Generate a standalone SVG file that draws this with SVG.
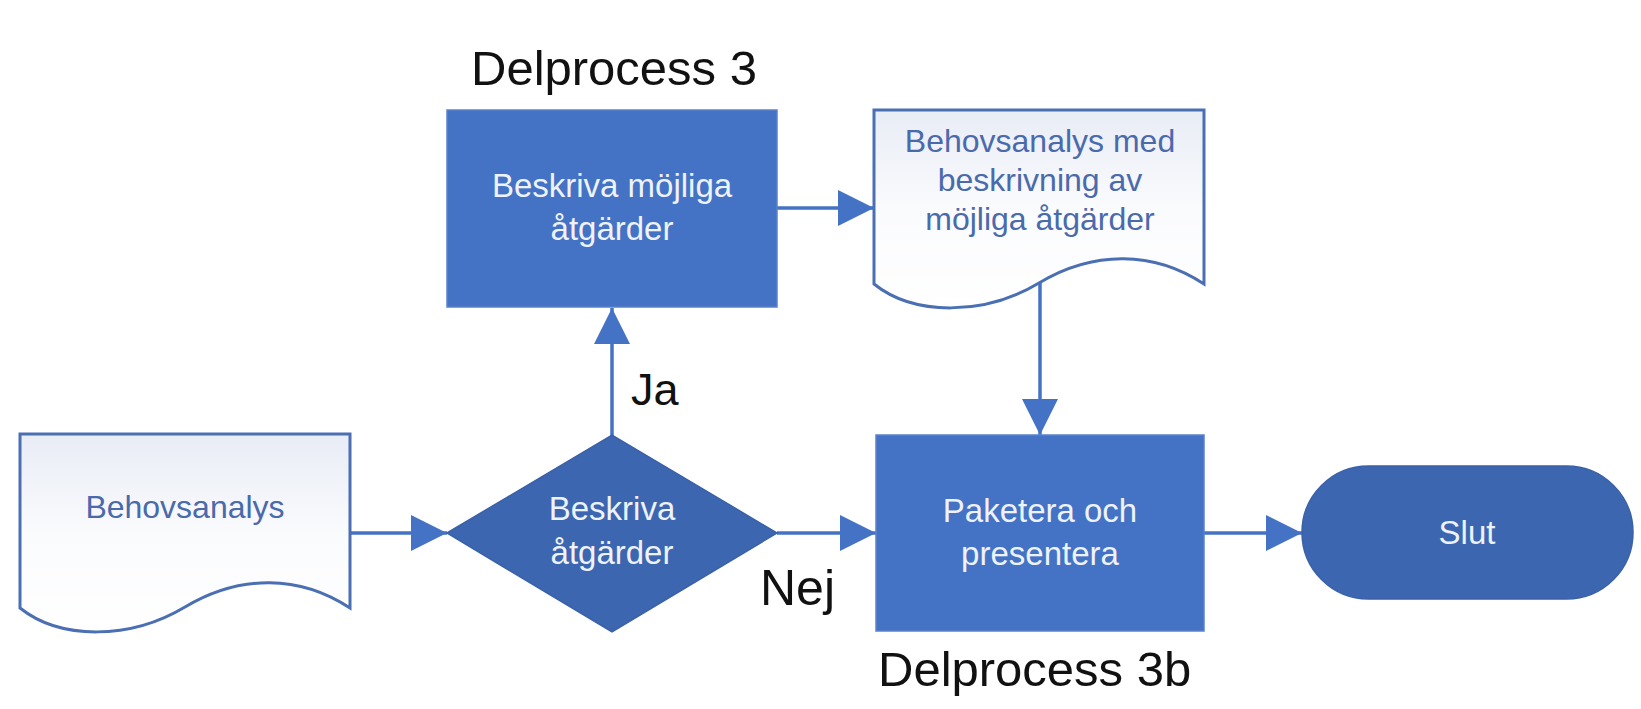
<svg xmlns="http://www.w3.org/2000/svg" width="1641" height="709" viewBox="0 0 1641 709">
<style>
  .lbl { font-family: "Liberation Sans", Arial, sans-serif; }
  .title { font-family: "Liberation Sans", Arial, sans-serif; font-size: 49px; fill: #111; }
  .boxtxt { font-family: "Liberation Sans", Arial, sans-serif; font-size: 33px; fill: #eef2fa; text-anchor: middle; }
  .doctxt { font-family: "Liberation Sans", Arial, sans-serif; font-size: 32px; fill: #4a6aac; text-anchor: middle; }
  .proc { fill: #4472c4; stroke: #5a82cb; stroke-width: 1.5; }
  .dark { fill: #3d66b0; stroke: #3a60a8; stroke-width: 1.5; }
  .doc { fill: url(#docgrad); stroke: #4a6fb3; stroke-width: 3; }
  .conn { stroke: #4472c4; stroke-width: 3.5; fill: none; marker-end: url(#arrow); }
</style>
<defs>
  <linearGradient id="docgrad" x1="0" y1="0" x2="0" y2="1">
    <stop offset="0" stop-color="#e8ecf5"/>
    <stop offset="0.5" stop-color="#fafbfd"/>
    <stop offset="1" stop-color="#ffffff"/>
  </linearGradient>
  <marker id="arrow" markerUnits="userSpaceOnUse" markerWidth="36" markerHeight="36" viewBox="0 0 34 34" refX="34" refY="17" orient="auto">
    <path d="M0,0 L34,17 L0,34 Z" fill="#4472c4"/>
  </marker>
  <path id="docshape" d="M0,0 H330 V174 C280,141 220,140 165,173 C110,206 40,206 0,174 Z"/>
</defs>
<rect width="1641" height="709" fill="#ffffff"/>

<g id="connectors">
  <line class="conn" x1="350" y1="533" x2="447" y2="533"/>
  <line class="conn" x1="612" y1="436" x2="612" y2="308"/>
  <line class="conn" x1="777" y1="208" x2="874" y2="208"/>
  <line class="conn" x1="1040" y1="283" x2="1040" y2="435"/>
  <line class="conn" x1="777" y1="533" x2="876" y2="533"/>
  <line class="conn" x1="1204" y1="533" x2="1302" y2="533"/>
  <text class="lbl" x="631" y="405" font-size="45" fill="#111">Ja</text>
  <text class="lbl" x="760" y="605" font-size="50" fill="#111">Nej</text>
</g>

<g id="doc1">
  <use href="#docshape" class="doc" transform="translate(20,434)"/>
  <text class="doctxt" x="185" y="518">Behovsanalys</text>
</g>

<g id="decision">
  <polygon class="dark" points="447,533 612,435 777,533 612,632"/>
  <text class="boxtxt" x="612" y="520">Beskriva</text>
  <text class="boxtxt" x="612" y="564">åtgärder</text>
</g>

<g id="box1">
  <text class="title" x="471" y="85">Delprocess 3</text>
  <rect class="proc" x="447" y="110" width="330" height="197"/>
  <text class="boxtxt" x="612" y="197">Beskriva möjliga</text>
  <text class="boxtxt" x="612" y="240">åtgärder</text>
</g>

<g id="doc2">
  <use href="#docshape" class="doc" transform="translate(874,110)"/>
  <text class="doctxt" x="1040" y="152">Behovsanalys med</text>
  <text class="doctxt" x="1040" y="191">beskrivning av</text>
  <text class="doctxt" x="1040" y="230">möjliga åtgärder</text>
</g>

<g id="box3">
  <rect class="proc" x="876" y="435" width="328" height="196"/>
  <text class="boxtxt" x="1040" y="522">Paketera och</text>
  <text class="boxtxt" x="1040" y="565">presentera</text>
  <text class="title" x="878" y="686" font-size="50">Delprocess 3b</text>
</g>

<g id="slut">
  <rect class="dark" x="1302" y="466" width="331" height="133" rx="66.5" ry="66.5"/>
  <text class="boxtxt" x="1467" y="544" font-size="32">Slut</text>
</g>
</svg>
